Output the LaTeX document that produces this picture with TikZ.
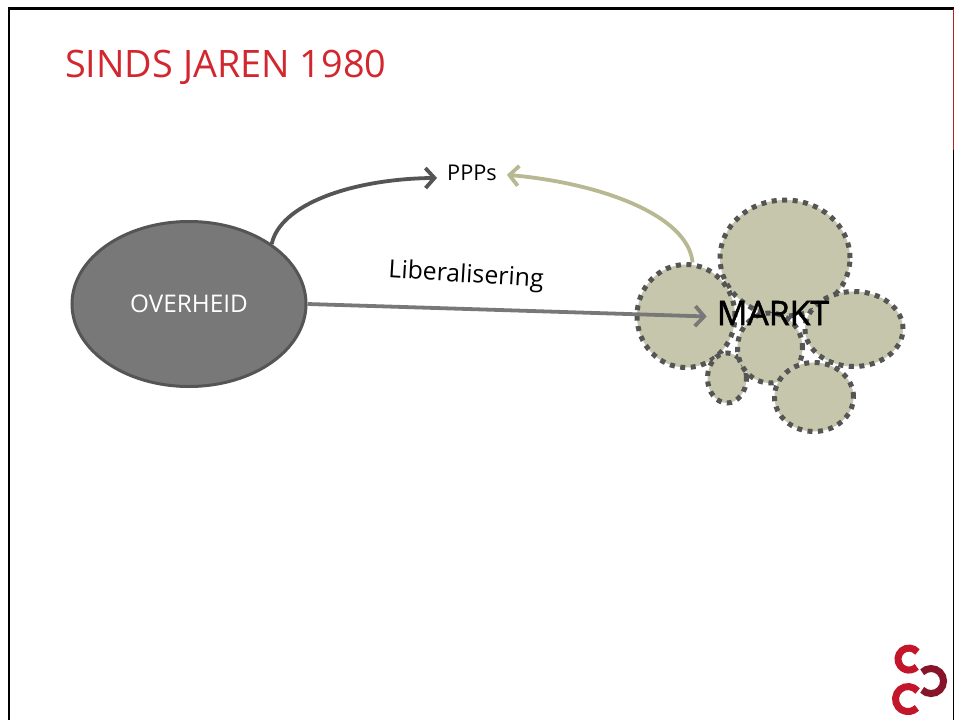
\documentclass[tikz,border=0pt]{standalone}
\usepackage{fontspec}
\setmainfont{Open Sans}
\newfontfamily\marktfont[FakeBold=1.6]{Open Sans}
\usetikzlibrary{arrows.meta, shapes.geometric}
\definecolor{titlered}{RGB}{211,39,48}
\definecolor{logored}{RGB}{196,22,42}
\definecolor{logodark}{RGB}{135,20,40}
\definecolor{khaki}{RGB}{198,198,172}
\definecolor{khakiline}{RGB}{184,184,146}
\definecolor{edgegray}{RGB}{85,85,85}
\definecolor{bodygray}{RGB}{120,120,120}
\tikzstyle{bubble} = [ellipse, fill=khaki, draw=edgegray, line width=5pt, dash pattern=on 5pt off 5.5pt, inner sep=0pt]
\tikzstyle{arrow} = [line width=3.8pt,-{Straight Barb[length=9pt,width=20pt,line width=3.8pt]}]
\tikzstyle{logoarc} = [line width=7pt]
\begin{document}
\begin{tikzpicture}[x=1pt,y=-1pt]
      \useasboundingbox (0,0) rectangle (954,720);
      \fill[white] (0,0) rectangle (954,720);
      % frame
      \draw[line width=2.6pt] (9,720) -- (9,8.5) -- (954,8.5);
      \draw[line width=1.4pt,black] (953.3,150) -- (953.3,720);
      \draw[line width=1.4pt,titlered!85!black] (953.3,9) -- (953.3,150);

      \node (title) [anchor=west, text=titlered, font=\fontsize{37.8}{42}\selectfont, inner sep=0pt] at (65,67) {SINDS JAREN 1980};

      \node (overheid) [ellipse, fill=bodygray, draw=edgegray, line width=3pt, minimum width=234pt, minimum height=165pt, inner sep=0pt, text=white, font=\fontsize{24.3}{28}\selectfont] at (189,304) {OVERHEID};

      \node (big) [bubble, minimum width=130pt, minimum height=116pt] at (785,258) {};
      \node (left) [bubble, minimum width=98pt, minimum height=103pt] at (686,316) {};
      \node (right) [bubble, minimum width=98pt, minimum height=75pt] at (854,329) {};
      \node (small) [bubble, minimum width=39pt, minimum height=50pt] at (727,378) {};
      \node (mid) [bubble, minimum width=65pt, minimum height=70pt] at (770,348) {};
      \node (bottom) [bubble, minimum width=79pt, minimum height=69pt] at (814,397) {};

      \node (markt) [inner sep=10pt, font=\fontsize{33.8}{38}\marktfont] at (773,313) {MARKT};
      \node (ppps) [inner sep=10pt, font=\fontsize{21.7}{26}\selectfont] at (472,173) {PPPs};
      \node (liberal) [rotate=-3.4, inner sep=0pt, font=\fontsize{24.8}{29}\selectfont] at (466,276) {Liberalisering};

      \draw[arrow, draw=edgegray] (overheid.36) .. controls (280,205) and (350,179) .. (ppps.188);
      \draw[arrow, draw=khakiline] (left.83) .. controls (688,215) and (600,183) .. (ppps.-3);
      \draw[arrow, draw=bodygray] (overheid.east) -- (markt.183);

      % logo
      \draw[logoarc, logored] (917.4,652) arc (-40:-315:11);
      \draw[logoarc, logored] (917.6,691) arc (-40:-315:12.5);
      \draw[logoarc, logodark] (922.2,672.2) arc (-135:135:12.5);
\end{tikzpicture}
\end{document}
